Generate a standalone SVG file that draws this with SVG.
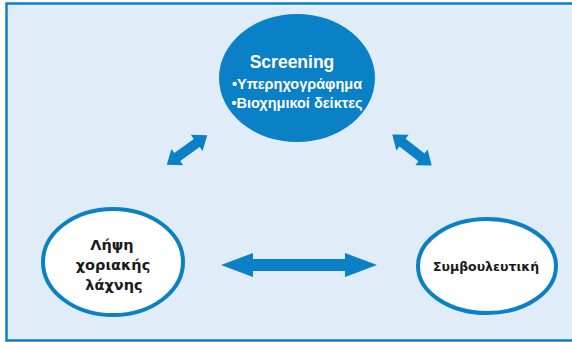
<svg xmlns="http://www.w3.org/2000/svg" width="572" height="342" viewBox="0 0 572 342">
<style>
.bg{fill:#ffffff}
.frame{fill:#e0ecf7;stroke:#0a80c6;stroke-width:2.5}
.arrow{fill:#0a80c6}
.wnode{fill:#ffffff;stroke:#0a80c6;stroke-width:4}
.bnode{fill:#0a80c6}
.wt{font-family:"Liberation Sans",Arial,sans-serif;font-weight:bold;fill:#ffffff;text-anchor:middle}
.bt{font-family:"DejaVu Sans","Liberation Sans",sans-serif;font-weight:bold;fill:#1a1a1a;text-anchor:middle}
</style>
<rect class="bg" x="0" y="0" width="572" height="342"/>
<rect class="frame" x="6.5" y="3.5" width="570" height="337"/>
<g id="connectors">
<path class="arrow" d="M221,265 L253,253 L253,259 L345,259 L345,253 L377,265 L345,277 L345,271 L253,271 L253,277 Z"/>
<path class="arrow" transform="translate(187,150) rotate(-36)" d="M-25,0 L-12,-10 L-12,-5 L12,-5 L12,-10 L25,0 L12,10 L12,5 L-12,5 L-12,10 Z"/>
<path class="arrow" transform="translate(412,150) rotate(38)" d="M-25,0 L-12,-10 L-12,-5 L12,-5 L12,-10 L25,0 L12,10 L12,5 L-12,5 L-12,10 Z"/>
</g>
<g id="screening">
<ellipse class="bnode" cx="297" cy="78" rx="78" ry="64"/>
<text class="wt" x="292" y="68" font-size="17.5">Screening</text>
<text class="wt" x="297" y="89" font-size="14.5">•Υπερηχογράφημα</text>
<text class="wt" x="297" y="108" font-size="14.5">•Βιοχημικοί δείκτες</text>
</g>
<g id="lipsi">
<ellipse class="wnode" cx="113" cy="262" rx="70" ry="53"/>
<text class="bt" x="112" y="250" font-size="14.5">Λήψη</text>
<text class="bt" x="113" y="270" font-size="14.5">χοριακής</text>
<text class="bt" x="114" y="290" font-size="14.5">λάχνης</text>
</g>
<g id="symvouleutiki">
<ellipse class="wnode" cx="487" cy="266" rx="69" ry="47"/>
<text class="bt" x="486" y="271" font-size="12.5">Συμβουλευτική</text>
</g>
</svg>
